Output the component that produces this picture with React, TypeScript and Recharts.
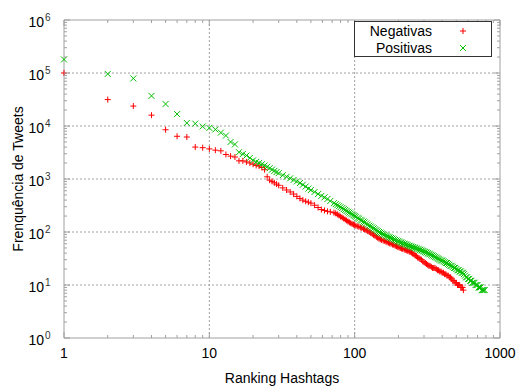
import { ScatterChart, Scatter, XAxis, YAxis, ReferenceLine, ReferenceArea, Legend } from "recharts";

// rank-frequency of hashtags
const negRanks = [
  1, 2, 3, 4, 5, 6, 7, 8, 9, 10, 11, 12, 13, 14, 15, 16, 17, 18, 19, 20, 21, 22, 23, 24,
  25, 26, 27, 28, 29, 30, 32, 34, 36, 38, 40, 42, 44, 46, 48, 50, 53, 56, 59, 62, 65, 68,
  72, 74, 76, 78, 80, 82, 84, 86, 88, 90, 92, 94, 96, 98, 100, 102, 105, 107, 110, 112,
  115, 117, 120, 123, 126, 129, 132, 135, 138, 141, 144, 147, 150, 153, 157, 160, 164, 167,
  171, 174, 178, 182, 186, 190, 194, 198, 202, 206, 210, 214, 219, 223, 228, 232, 237, 241,
  246, 251, 256, 261, 266, 271, 277, 282, 288, 294, 300, 306, 312, 318, 324, 330, 337, 343,
  350, 357, 364, 371, 378, 385, 393, 400, 408, 416, 424, 432, 440, 448, 457, 465, 474, 483,
  492, 501, 510, 519, 528, 537, 546, 553, 560,
];
const negFreq = [
  100000, 31500, 23800, 16000, 8500, 6400, 6200, 4000, 3900, 3700, 3500, 3400, 2900, 2700,
  2600, 2200, 2200, 2100, 2000, 1900, 1800, 1750, 1650, 1500,
  1100, 950, 900, 850, 800, 760, 680, 620, 570, 520, 470, 430, 400, 380, 365, 350, 320, 290,
  265, 255, 245, 240,
  232, 225, 215, 205, 195, 188, 180, 172, 165, 158, 152, 147, 142, 138, 135, 131, 128, 125,
  122, 119, 115, 112, 108, 104, 100, 96, 92, 88, 85, 81, 78, 75, 73, 71, 69, 68, 66, 64,
  63, 61, 60, 58, 57, 55, 54, 52, 51, 50, 49, 48, 47, 46, 45, 44, 43, 42,
  41, 39, 38, 36, 35, 33, 32, 31, 30, 28, 27, 26, 25, 24, 23, 23, 22, 21,
  21, 21, 20, 19, 19, 18, 18, 17, 17, 16, 16, 15, 15, 14, 14, 13, 12, 12,
  11, 11, 10, 10, 10, 9, 9, 9, 8,
];

const posRanks = [
  1, 2, 3, 4, 5, 6, 7, 8, 9, 10, 11, 12, 13, 14, 15, 16, 17, 18, 19, 20, 21, 22, 23, 24,
  25, 26, 27, 28, 29, 30, 32, 34, 36, 38, 40, 42, 44, 46, 48, 50, 53, 56, 59, 62, 65, 68,
  72, 74, 76, 78, 80, 82, 84, 86, 88, 90, 92, 94, 96, 98, 100, 102, 105, 107, 110, 112,
  115, 117, 120, 123, 126, 129, 132, 135, 138, 141, 144, 147, 150, 153, 157, 160, 164, 167,
  171, 174, 178, 182, 186, 190, 194, 198, 202, 206, 210, 214, 219, 223, 228, 232, 237, 241,
  246, 251, 256, 261, 266, 271, 277, 282, 288, 294, 300, 306, 312, 318, 324, 330, 337, 343,
  350, 357, 364, 371, 378, 385, 393, 400, 408, 416, 424, 432, 440, 448, 457, 465, 474, 483,
  492, 501, 510, 519, 528, 537, 546, 555, 564, 574, 584, 594, 604, 614, 624, 635, 646, 657,
  668, 679, 690, 701, 712, 724, 736, 748, 760, 772, 785,
];
const posFreq = [
  180000, 96000, 79000, 37000, 26000, 16800, 11400, 11100, 9800, 9200, 8600, 7500, 6600,
  5000, 4500, 3200, 2960, 2770, 2500, 2250, 2100, 2000, 1900, 1800,
  1700, 1600, 1500, 1420, 1350, 1290, 1180, 1100, 1030, 960, 900, 840, 780, 720, 660, 620,
  570, 520, 480, 450, 420, 385,
  350, 335, 320, 307, 295, 282, 270, 260, 250, 241, 232, 223, 215, 207, 200, 193, 185, 178,
  170, 164, 158, 151, 145, 138, 132, 127, 122, 117, 112, 108, 104, 100, 97, 94, 91, 88, 86, 83,
  81, 79, 77, 75, 73, 71, 69, 67, 66, 64, 63, 61, 60, 59, 58, 56, 55, 54,
  53, 52, 51, 50, 49, 48, 47, 46, 45, 44, 43, 42, 41, 40, 39, 38, 37, 36,
  35, 34, 33, 32, 31, 30, 29, 29, 28, 27, 26, 26, 25, 24, 23, 23, 22, 21,
  21, 20, 19, 19, 18, 18, 17, 17, 16, 15, 14, 14, 13, 13, 12, 12, 11, 11,
  11, 10, 10, 10, 9, 9, 9, 8, 8, 8, 8,
];

const seriesNames = ["Negativas", "Positivas"];

// axis labels
const xMajor = [1, 10, 100, 1000];
const xMajorLabels = ["1", "10", "100", "1000"];
const yMajor = [1, 10, 100, 1000, 10000, 100000, 1000000];
const yExponents = ["0", "1", "2", "3", "4", "5", "6"];

const minorSteps = [2, 3, 4, 5, 6, 7, 8, 9];
const xTicks = [...xMajor, ...xMajor.slice(0, -1).flatMap((d) => minorSteps.map((m) => d * m))];
const yTicks = [...yMajor, ...yMajor.slice(0, -1).flatMap((d) => minorSteps.map((m) => d * m))];

const negData = negRanks.map((r, i) => ({ rank: r, freq: negFreq[i] }));
const posData = posRanks.map((r, i) => ({ rank: r, freq: posFreq[i] }));

const W = 518;
const H = 387;
const PLOT_LEFT = 64;
const PLOT_RIGHT = 500;
const PLOT_TOP = 20;
const PLOT_BOTTOM = 338;
const AXIS = "#a0a0a0";
const RED = "#ff0000";
const GREEN = "#00c000";
const FONT = "'Liberation Sans', Arial, sans-serif";

const Plus = ({ cx, cy, color = RED }: any) => (
  <g stroke={color} strokeWidth={1}>
    <line x1={cx - 3} x2={cx + 3} y1={cy} y2={cy} />
    <line x1={cx} x2={cx} y1={cy - 3} y2={cy + 3} />
  </g>
);

const Cross = ({ cx, cy, color = GREEN }: any) => (
  <g stroke={color} strokeWidth={1}>
    <line x1={cx - 3} x2={cx + 3} y1={cy - 3} y2={cy + 3} />
    <line x1={cx - 3} x2={cx + 3} y1={cy + 3} y2={cy - 3} />
  </g>
);

const XTick = (props: any) => {
  const { x, payload } = props;
  const idx = xMajor.indexOf(payload.value);
  const len = idx >= 0 ? 6 : 3;
  return (
    <g>
      <line x1={x} x2={x} y1={PLOT_BOTTOM} y2={PLOT_BOTTOM - len} stroke={AXIS} />
      <line x1={x} x2={x} y1={PLOT_TOP} y2={PLOT_TOP + len} stroke={AXIS} />
      {idx >= 0 && (
        <text x={x} y={PLOT_BOTTOM + 20} textAnchor="middle" fontSize={14} fill="#000" fontFamily={FONT}>
          {xMajorLabels[idx]}
        </text>
      )}
    </g>
  );
};

const YTick = (props: any) => {
  const { y, payload } = props;
  const idx = yMajor.indexOf(payload.value);
  const len = idx >= 0 ? 6 : 3;
  return (
    <g>
      <line x1={PLOT_LEFT} x2={PLOT_LEFT + len} y1={y} y2={y} stroke={AXIS} />
      <line x1={PLOT_RIGHT} x2={PLOT_RIGHT - len} y1={y} y2={y} stroke={AXIS} />
      {idx >= 0 && (
        <g fontFamily={FONT} fill="#000">
          <text x={44} y={y + 7} textAnchor="end" fontSize={14}>10</text>
          <text x={45} y={y + 1} fontSize={10} fill="#333">{yExponents[idx]}</text>
        </g>
      )}
    </g>
  );
};

const LegendBox = () => (
  <svg width={139} height={37} style={{ display: "block" }}>
    <rect x={0.5} y={0.5} width={137} height={35} fill="#fff" stroke="#333" />
    <text x={78} y={15} textAnchor="end" fontSize={14} fontFamily={FONT} fill="#000">{seriesNames[0]}</text>
    <Plus cx={109} cy={10} />
    <text x={78} y={32} textAnchor="end" fontSize={14} fontFamily={FONT} fill="#000">{seriesNames[1]}</text>
    <Cross cx={109} cy={27} />
  </svg>
);

export default function App() {
  return (
    <div style={{ width: W, height: H, position: "relative", background: "#fff" }}>
      <style>{`body{margin:0}`}</style>
      <ScatterChart width={W} height={H} margin={{ top: 20, right: 18, bottom: 0, left: 0 }}>
        <XAxis
          type="number"
          dataKey="rank"
          scale="log"
          domain={[1, 1000]}
          ticks={xTicks}
          interval={0}
          height={49}
          axisLine={false}
          tickLine={false}
          tick={<XTick />}
          label={{ value: "Ranking Hashtags", position: "insideBottom", offset: 0, dy: -4, fontSize: 14, fill: "#000", fontFamily: FONT }}
        />
        <YAxis
          type="number"
          dataKey="freq"
          scale="log"
          domain={[1, 1000000]}
          ticks={yTicks}
          interval={0}
          width={64}
          axisLine={false}
          tickLine={false}
          tick={<YTick />}
          label={{ value: "Frenquência de Tweets", angle: -90, position: "insideLeft", offset: 0, dx: 18, fontSize: 14, fill: "#000", fontFamily: FONT, style: { textAnchor: "middle" } }}
        />
        {yMajor.slice(1, -1).map((v) => (
          <ReferenceLine key={"gy" + v} y={v} stroke={AXIS} strokeDasharray="2 2" />
        ))}
        {xMajor.slice(1, -1).map((v) => (
          <ReferenceLine key={"gx" + v} x={v} stroke={AXIS} strokeDasharray="2 2" />
        ))}
        <ReferenceArea x1={1} x2={1000} y1={1} y2={1000000} fill="none" stroke={AXIS} strokeOpacity={1} fillOpacity={0} />
        <Scatter name={seriesNames[0]} data={negData} shape={<Plus />} isAnimationActive={false} />
        <Scatter name={seriesNames[1]} data={posData} shape={<Cross />} isAnimationActive={false} />
        <Legend
          layout="vertical"
          align="center"
          verticalAlign="middle"
          content={() => <LegendBox />}
          wrapperStyle={{ position: "absolute", left: 354, top: 21, width: 139, height: 37 }}
        />
      </ScatterChart>
    </div>
  );
}
